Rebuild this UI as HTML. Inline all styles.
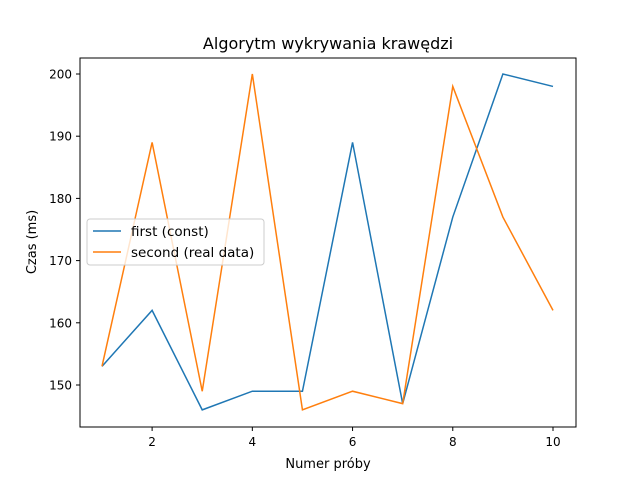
<!DOCTYPE html>
<html><head><meta charset="utf-8"><style>
body{margin:0;background:#fff;}
svg{font-family:"DejaVu Sans","Liberation Sans",sans-serif;}
</style></head><body>
<svg id="chart" width="640" height="480" viewBox="0 0 640 480">
<rect x="0" y="0" width="640" height="480" fill="#fff"/>
<text x="328" y="49" font-size="16" text-anchor="middle">Algorytm wykrywania krawędzi</text>
<g id="plot"></g>
<rect x="80" y="58" width="496" height="369" fill="none" stroke="#000" stroke-width="1"/>
<text x="328" y="468" font-size="13" text-anchor="middle">Numer próby</text>
<text transform="translate(36,242) rotate(-90)" font-size="13" text-anchor="middle">Czas (ms)</text>
<g>
<rect x="87" y="219" width="177" height="46" rx="3" fill="#fff" fill-opacity="0.8" stroke="#ccc"/>
<line x1="93" y1="231" x2="121" y2="231" stroke="#1f77b4" stroke-width="1.5"/>
<text x="131" y="236" font-size="13.5">first (const)</text>
<line x1="93" y1="252" x2="121" y2="252" stroke="#ff7f0e" stroke-width="1.5"/>
<text x="131" y="257" font-size="13.5">second (real data)</text>
</g>
</svg>
<script>
const categories = [1,2,3,4,5,6,7,8,9,10];
const firstValues = [153,162,146,149,149,189,147,177,200,198];
const secondValues = [153,189,149,200,146,149,147,198,177,162];
const xTicks = [2,4,6,8,10];
const yTicks = [150,160,170,180,190,200];
function xs(v){return 102 + (v-1)*(553-102)/9;}
function ys(v){return 385 - (v-150)*(385-74)/50;}
const NS="http://www.w3.org/2000/svg";
const g=document.getElementById('plot');
xTicks.forEach(t=>{
  const l=document.createElementNS(NS,'line');
  l.setAttribute('x1',xs(t));l.setAttribute('x2',xs(t));l.setAttribute('y1',427);l.setAttribute('y2',431);l.setAttribute('stroke','#000');
  
  
  g.appendChild(l);
  const tx=document.createElementNS(NS,'text');
  tx.setAttribute('x',xs(t));tx.setAttribute('y',446);tx.setAttribute('font-size','12');tx.setAttribute('text-anchor','middle');tx.textContent=t;
  
  
  g.appendChild(tx);
});
yTicks.forEach(t=>{
  const l=document.createElementNS(NS,'line');
  l.setAttribute('x1',76);l.setAttribute('x2',80);l.setAttribute('y1',ys(t));l.setAttribute('y2',ys(t));l.setAttribute('stroke','#000');
  
  
  g.appendChild(l);
  const tx=document.createElementNS(NS,'text');
  tx.setAttribute('x',72);tx.setAttribute('y',ys(t)+4.5);tx.setAttribute('font-size','12');tx.setAttribute('text-anchor','end');tx.textContent=t;
  
  
  g.appendChild(tx);
});
function series(vals,color,name){
  const p=document.createElementNS(NS,'polyline');
  p.setAttribute('points',vals.map((v,i)=>xs(categories[i])+','+ys(v)).join(' '));
  p.setAttribute('fill','none');p.setAttribute('stroke',color);p.setAttribute('stroke-width','1.5');
  
  
  g.appendChild(p);
}
series(firstValues,'#1f77b4','line-first');
series(secondValues,'#ff7f0e','line-second');
</script>
</body></html>
